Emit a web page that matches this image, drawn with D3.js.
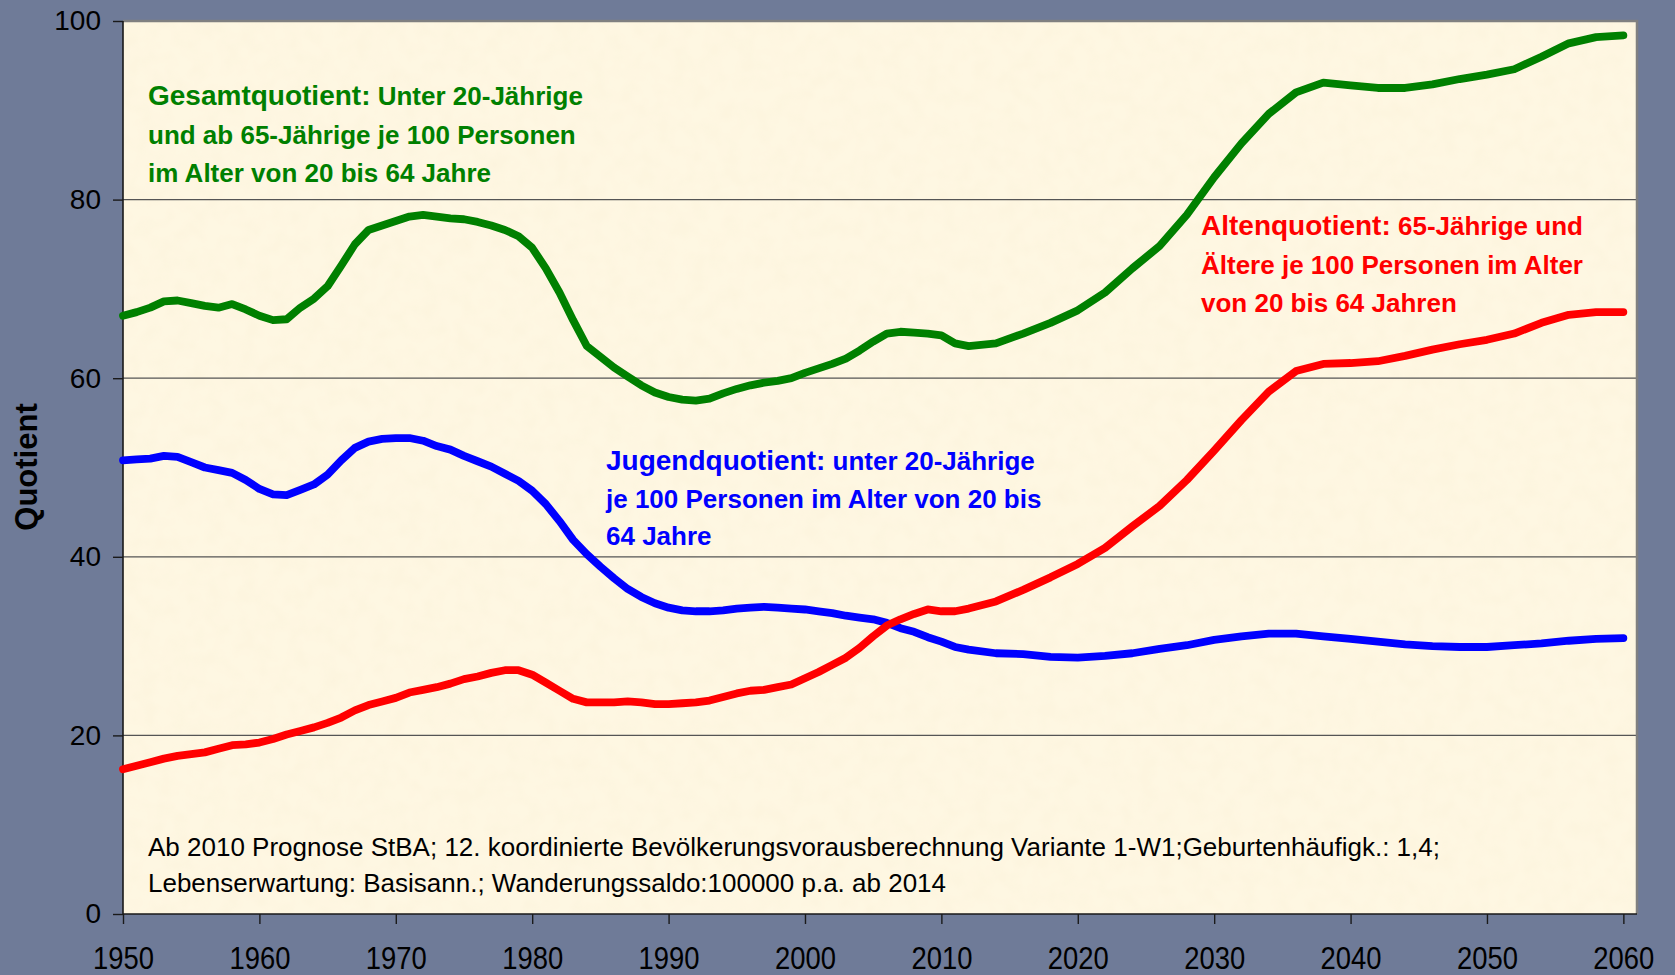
<!DOCTYPE html>
<html>
<head>
<meta charset="utf-8">
<script src="https://cdn.jsdelivr.net/npm/d3@7"></script>
<style>
  body { margin: 0; background: #6f7b98; }
  svg { display: block; font-family: "Liberation Sans", Arial, sans-serif; }
  .axis path { display: none; }
  .axis line { stroke: #1a1a1a; stroke-width: 1.4; }
  .axis text { fill: #000; }
  .x-axis text { font-size: 32px; }
  .y-axis text { font-size: 28px; }
  .grid line { stroke: #555; stroke-width: 1.2; }
  .chart-line { fill: none; stroke-width: 7.8; stroke-linecap: round; stroke-linejoin: round; }
  .note { font-size: 26px; font-weight: bold; }
  .source { font-size: 25px; fill: #000; }
  .axis-label { font-size: 31px; font-weight: bold; fill: #000; }
</style>
</head>
<body>
<div id="chart"></div>
<script>
// years: annual up to 2012, then every second year (projection)
const years = [
  1950, 1951, 1952, 1953, 1954, 1955, 1956, 1957, 1958, 1959,
  1960, 1961, 1962, 1963, 1964, 1965, 1966, 1967, 1968, 1969,
  1970, 1971, 1972, 1973, 1974, 1975, 1976, 1977, 1978, 1979,
  1980, 1981, 1982, 1983, 1984, 1985, 1986, 1987, 1988, 1989,
  1990, 1991, 1992, 1993, 1994, 1995, 1996, 1997, 1998, 1999,
  2000, 2001, 2002, 2003, 2004, 2005, 2006, 2007, 2008, 2009,
  2010, 2011, 2012,
  2014, 2016, 2018, 2020, 2022, 2024, 2026, 2028, 2030, 2032, 2034, 2036,
  2038, 2040, 2042, 2044, 2046, 2048, 2050, 2052, 2054, 2056, 2058, 2060,
];

const gesamtQuotient = [
  67.0, 67.4, 67.9, 68.6, 68.7, 68.4, 68.1, 67.9, 68.3, 67.7,
  67.0, 66.5, 66.6, 67.9, 68.9, 70.3, 72.6, 75.0, 76.6, 77.1,
  77.6, 78.1, 78.3, 78.1, 77.9, 77.8, 77.5, 77.1, 76.6, 75.9,
  74.6, 72.3, 69.6, 66.5, 63.6, 62.4, 61.2, 60.2, 59.2, 58.4,
  57.9, 57.6, 57.5, 57.7, 58.3, 58.8, 59.2, 59.5, 59.7, 60.0,
  60.6, 61.1, 61.6, 62.2, 63.1, 64.1, 65.0, 65.2, 65.1, 65.0,
  64.8, 63.9, 63.6,
  63.9, 65.0, 66.2, 67.6, 69.6, 72.3, 74.8, 78.3, 82.5, 86.3, 89.6, 92.0,
  93.1, 92.8, 92.5, 92.5, 92.9, 93.5, 94.0, 94.6, 96.0, 97.5, 98.2, 98.4,
];

const jugendQuotient = [
  50.8, 50.9, 51.0, 51.3, 51.2, 50.6, 50.0, 49.7, 49.4, 48.6,
  47.6, 47.0, 46.9, 47.5, 48.1, 49.2, 50.8, 52.2, 52.9, 53.2,
  53.3, 53.3, 53.0, 52.4, 52.0, 51.3, 50.7, 50.1, 49.3, 48.5,
  47.4, 45.9, 44.0, 41.9, 40.3, 38.9, 37.6, 36.4, 35.5, 34.8,
  34.3, 34.0, 33.9, 33.9, 34.0, 34.2, 34.3, 34.4, 34.3, 34.2,
  34.1, 33.9, 33.7, 33.4, 33.2, 33.0, 32.6, 32.0, 31.6, 31.0,
  30.5, 29.9, 29.6,
  29.2, 29.1, 28.8, 28.7, 28.9, 29.2, 29.7, 30.1, 30.7, 31.1, 31.4, 31.4,
  31.1, 30.8, 30.5, 30.2, 30.0, 29.9, 29.9, 30.1, 30.3, 30.6, 30.8, 30.9,
];

const altenQuotient = [
  16.2, 16.6, 17.0, 17.4, 17.7, 17.9, 18.1, 18.5, 18.9, 19.0,
  19.2, 19.6, 20.1, 20.5, 20.9, 21.4, 22.0, 22.8, 23.4, 23.8,
  24.2, 24.8, 25.1, 25.4, 25.8, 26.3, 26.6, 27.0, 27.3, 27.3,
  26.8, 25.9, 25.0, 24.1, 23.7, 23.7, 23.7, 23.8, 23.7, 23.5,
  23.5, 23.6, 23.7, 23.9, 24.3, 24.7, 25.0, 25.1, 25.4, 25.7,
  26.4, 27.1, 27.9, 28.7, 29.8, 31.1, 32.3, 33.0, 33.6, 34.1,
  33.9, 33.9, 34.2,
  35.0, 36.3, 37.7, 39.2, 41.0, 43.4, 45.7, 48.6, 51.9, 55.3, 58.5, 60.8,
  61.6, 61.7, 61.9, 62.5, 63.2, 63.8, 64.3, 65.0, 66.2, 67.1, 67.4, 67.4,
];

const xTickValues = [1950, 1960, 1970, 1980, 1990, 2000, 2010, 2020, 2030, 2040, 2050, 2060];
const yTickValues = [0, 20, 40, 60, 80, 100];
const gridValues = [20, 40, 60, 80];

const seriesKeys = ["gesamt", "jugend", "alten"];
const seriesColours = { gesamt: "#008000", jugend: "#0000ff", alten: "#ff0000" };

// annotation lines: [bold lead, rest]
const gesamtNote = [
  ["Gesamtquotient:", " Unter 20-Jährige"],
  ["", "und ab 65-Jährige je 100 Personen"],
  ["", "im Alter von 20 bis 64 Jahre"],
];
const altenNote = [
  ["Altenquotient:", " 65-Jährige und"],
  ["", "Ältere je 100 Personen im Alter"],
  ["", "von 20 bis 64 Jahren"],
];
const jugendNote = [
  ["Jugendquotient:", " unter 20-Jährige"],
  ["", "je 100 Personen im Alter von 20 bis"],
  ["", "64 Jahre"],
];
const sourceLines = [
  "Ab 2010 Prognose StBA; 12. koordinierte Bevölkerungsvorausberechnung Variante 1-W1;Geburtenhäufigk.: 1,4;",
  "Lebenserwartung: Basisann.; Wanderungssaldo:100000 p.a. ab 2014",
];

class QuotientChart {
  constructor(_config, _data) {
    this.config = {
      parentElement: _config.parentElement,
      containerWidth: _config.containerWidth || 1675,
      containerHeight: _config.containerHeight || 975,
      margin: _config.margin || { top: 21, right: 38, bottom: 61, left: 123 },
    };
    this.data = _data;
    this.initVis();
  }

  initVis() {
    let vis = this;

    vis.width = vis.config.containerWidth - vis.config.margin.left - vis.config.margin.right;
    vis.height = vis.config.containerHeight - vis.config.margin.top - vis.config.margin.bottom;

    vis.xScale = d3.scaleLinear().domain([1950, 2061]).range([0, vis.width]);
    vis.yScale = d3.scaleLinear().domain([0, 100]).range([vis.height, 0]);

    vis.xAxis = d3.axisBottom(vis.xScale)
      .tickValues(xTickValues)
      .tickFormat(d3.format("d"))
      .tickSize(10)
      .tickPadding(22);

    vis.yAxis = d3.axisLeft(vis.yScale)
      .tickValues(yTickValues)
      .tickSize(10)
      .tickPadding(12);

    vis.svg = d3.select(vis.config.parentElement)
      .append("svg")
      .attr("width", vis.config.containerWidth)
      .attr("height", vis.config.containerHeight);

    // faint mottled paper texture for the plot area
    const filter = vis.svg.append("defs").append("filter")
      .attr("id", "paper")
      .attr("x", 0).attr("y", 0).attr("width", 1).attr("height", 1);
    filter.append("feTurbulence")
      .attr("type", "fractalNoise")
      .attr("baseFrequency", 0.06)
      .attr("numOctaves", 2)
      .attr("seed", 3);
    filter.append("feColorMatrix")
      .attr("type", "matrix")
      .attr("values", "0 0 0 0 0.93  0 0 0 0 0.82  0 0 0 0 0.62  0 0 0 0.35 -0.12");
    filter.append("feComposite").attr("in2", "SourceGraphic").attr("operator", "in");

    vis.svg.append("rect")
      .attr("width", vis.config.containerWidth)
      .attr("height", vis.config.containerHeight)
      .attr("fill", "#6f7b98");

    vis.chart = vis.svg.append("g")
      .attr("transform", `translate(${vis.config.margin.left},${vis.config.margin.top})`);

    // plot area
    vis.chart.append("rect")
      .attr("width", vis.width)
      .attr("height", vis.height)
      .attr("fill", "#fef7e2");
    vis.chart.append("rect")
      .attr("width", vis.width)
      .attr("height", vis.height)
      .attr("fill", "#fff")
      .attr("filter", "url(#paper)");

    vis.chart.append("g")
      .attr("class", "grid")
      .selectAll("line")
      .data(gridValues)
      .join("line")
      .attr("x1", 0)
      .attr("x2", vis.width)
      .attr("y1", (d) => vis.yScale(d))
      .attr("y2", (d) => vis.yScale(d));

    // frame: grey top/right, black left/bottom
    vis.chart.append("path")
      .attr("d", `M0,0H${vis.width}V${vis.height}`)
      .attr("fill", "none")
      .attr("stroke", "#808080")
      .attr("stroke-width", 2.5);
    vis.chart.append("path")
      .attr("d", `M0,0V${vis.height}H${vis.width}`)
      .attr("fill", "none")
      .attr("stroke", "#1a1a1a")
      .attr("stroke-width", 1.6);

    vis.xAxisG = vis.chart.append("g")
      .attr("class", "axis x-axis")
      .attr("transform", `translate(0,${vis.height})`);
    vis.yAxisG = vis.chart.append("g").attr("class", "axis y-axis");

    vis.marks = vis.chart.append("g");

    vis.svg.append("text")
      .attr("class", "axis-label")
      .attr("text-anchor", "middle")
      .attr("transform", "rotate(-90)")
      .attr("x", -467)
      .attr("y", 37)
      .text("Quotient");

    vis.updateVis();
  }

  updateVis() {
    let vis = this;

    vis.series = seriesKeys.map((key) => ({
      key,
      values: years.map((year, i) => ({ year, value: vis.data[key][i] })),
    }));

    vis.line = d3.line()
      .x((d) => vis.xScale(d.year))
      .y((d) => vis.yScale(d.value));

    vis.renderVis();
  }

  renderVis() {
    let vis = this;

    vis.marks.selectAll(".chart-line")
      .data(vis.series, (d) => d.key)
      .join("path")
      .attr("class", "chart-line")
      .attr("d", (d) => vis.line(d.values))
      .style("stroke", (d) => seriesColours[d.key]);

    vis.xAxisG.call(vis.xAxis);
    vis.yAxisG.call(vis.yAxis);

    vis.xAxisG.selectAll("text")
      .attr("dy", "0.71em")
      .attr("textLength", 61)
      .attr("lengthAdjust", "spacingAndGlyphs");

    // text notes, positions in svg coordinates
    const notes = [
      { lines: gesamtNote, colour: seriesColours.gesamt, x: 148, y: 105, step: 38.5 },
      { lines: altenNote, colour: seriesColours.alten, x: 1201, y: 235, step: 38.5 },
      { lines: jugendNote, colour: seriesColours.jugend, x: 606, y: 470, step: 37.5 },
    ];

    notes.forEach((note) => {
      const t = vis.svg.append("text")
        .attr("class", "note")
        .attr("fill", note.colour);
      note.lines.forEach((parts, i) => {
        if (parts[0]) {
          t.append("tspan")
            .attr("x", note.x)
            .attr("y", note.y + i * note.step)
            .style("font-size", "28px")
            .text(parts[0]);
          t.append("tspan").text(parts[1]);
        } else {
          t.append("tspan")
            .attr("x", note.x)
            .attr("y", note.y + i * note.step)
            .text(parts[1]);
        }
      });
    });

    const sourceWidths = [1292, 798];
    vis.svg.selectAll(".source")
      .data(sourceLines)
      .join("text")
      .attr("class", "source")
      .attr("x", 148)
      .attr("y", (d, i) => 856 + i * 36)
      .attr("textLength", (d, i) => sourceWidths[i])
      .attr("lengthAdjust", "spacingAndGlyphs")
      .text((d) => d);
  }
}

const chart = new QuotientChart({ parentElement: "#chart" }, {
  gesamt: gesamtQuotient,
  jugend: jugendQuotient,
  alten: altenQuotient,
});
</script>
</body>
</html>
